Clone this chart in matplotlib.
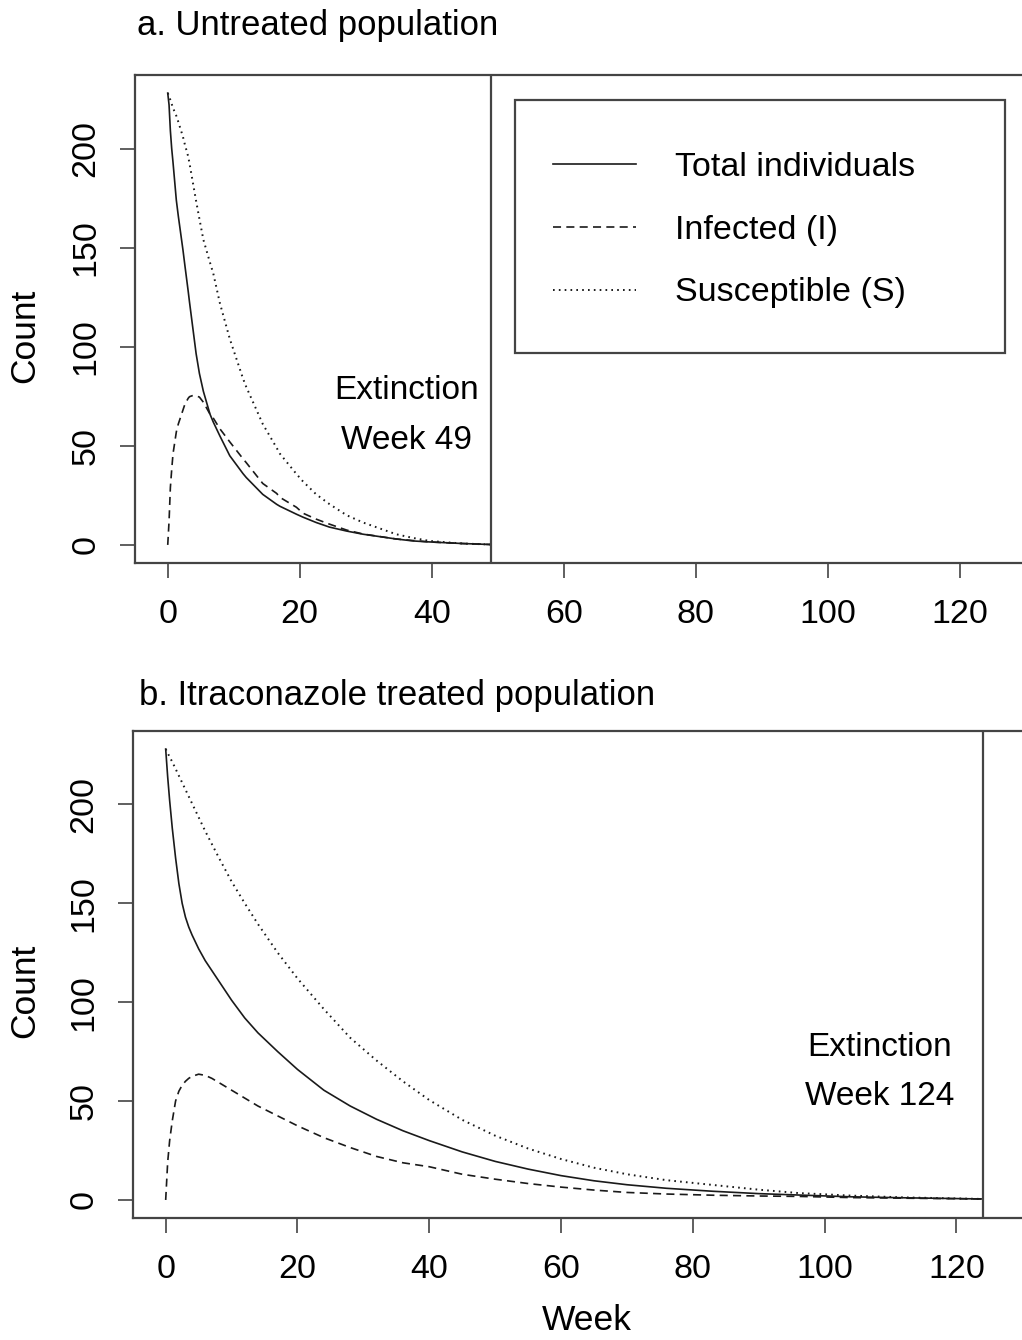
import matplotlib
matplotlib.use('Agg')
import matplotlib.pyplot as plt
from matplotlib.patches import Rectangle

plt.rcParams['font.family'] = ['Liberation Sans', 'DejaVu Sans']
plt.rcParams['lines.scale_dashes'] = False

# ---- data ----

# a. untreated population, extinction at week 49
weeks_a = [0, 0.2, 0.4, 0.6, 0.8, 1.3, 1.6, 2.3, 2.6, 3.1, 3.3, 3.8, 4.3, 4.8, 5.4, 6.4, 6.9,
           7.9, 9.4, 11.4, 11.9, 14.4, 16.5, 17, 19.5, 20.5, 22.5, 24.5, 27.1, 29.6, 34.6,
           37.2, 39.7, 44.7, 49]
total_a = [228, 222, 209, 200, 193, 174, 166, 149, 141, 128, 122.5, 109.5, 96.5, 86.5, 77.5, 66, 62,
           55, 45, 36, 34, 25.5, 20.5, 19.5, 15.5, 14, 11.3, 9, 7, 5.4, 3,
           2, 1.5, 0.7, 0.2]
infected_a = [0, 12, 29, 38, 46, 57, 61, 68, 71, 74, 74.8, 75.4, 75.2, 74.6, 72, 66, 64,
              58.6, 52, 43.5, 41.5, 31, 26, 24, 19, 16, 13, 10.5, 7.5, 5.5, 3,
              2.2, 1.5, 0.7, 0.2]
suscept_a = [228, 226.5, 224.5, 222.5, 220.5, 216.5, 213.5, 206, 202, 196, 192.5, 183, 173.5, 164.5, 154, 142.5, 137,
             122, 104, 84, 79.7, 61, 49, 46, 35.8, 32, 25.5, 20.6, 15, 11.3, 5.4,
             3.5, 2, 0.7, 0.2]

# b. itraconazole treated population, extinction at week 124
weeks_b = [0, 0.3, 0.6, 1, 1.5, 2, 2.5, 3, 3.5, 4, 5, 6, 7, 8, 10, 12, 14, 17, 20, 24, 28, 32,
           36, 40, 45, 50, 55, 60, 65, 70, 76, 83, 90, 96, 104, 112, 118, 124]
total_b = [228, 214, 202, 188, 173, 160, 150, 143, 138, 134, 127, 121, 116, 111, 101, 92, 84.5,
           75, 66, 55.5, 47.5, 40.8, 35, 30, 24.3, 19.5, 15.6, 12.3, 9.7, 7.7, 5.9, 4.4, 3.2,
           2.5, 1.6, 1.1, 0.8, 0.5]
infected_b = [0, 19, 30, 40, 50, 55, 58, 60, 61.5, 62.5, 63.6, 63, 61.5, 59.5, 55.5, 51.5,
              47.5, 42.5, 37.5, 31.5, 26.5, 22, 18.8, 16.8, 13, 10.5, 8.3, 6.5, 5, 3.8, 3,
              2.4, 2, 1.8, 1.2, 0.9, 0.7, 0.5]
suscept_b = [228, 226, 224, 221.5, 218, 214.5, 211, 207.5, 204, 200.5, 193.5, 186.5, 180,
             173.5, 161, 150, 139.5, 125, 112, 96.5, 82, 70.5, 60, 50.5, 40.5, 32.5, 26, 20.7,
             16.3, 13, 10, 7.6, 5.2, 3.5, 2.2, 1.3, 0.9, 0.5]

extinct_a = 49
extinct_b = 124

labels = ['Total individuals', 'Infected (I)', 'Susceptible (S)']
xticks = [0, 20, 40, 60, 80, 100, 120]
yticks = [0, 50, 100, 150, 200]

# ---- figure ----

W, H = 1022, 1340
FS = 24.5
fig = plt.figure(figsize=(W / 100, H / 100), dpi=100)

def px_axes(left, top, right, bottom):
    return fig.add_axes([left / W, 1 - bottom / H, (right - left) / W, (bottom - top) / H])

spine_col = '#444444'
line_col = '#1a1a1a'
dash = (0, (5.8, 3.8))
dot = (0, (1.2, 3.0))

def draw_panel(ax, weeks, tot, inf, sus, ext):
    ax.plot(weeks, tot, color=line_col, lw=1.2, linestyle='-', label=labels[0])
    ax.plot(weeks, inf, color=line_col, lw=1.2, linestyle=dash, label=labels[1])
    ax.plot(weeks, sus, color=line_col, lw=1.4, linestyle=dot, label=labels[2])
    ax.axvline(ext, color=spine_col, lw=1.6)
    ax.set_xlim(-4.96, 131.0)
    ax.set_ylim(-9.12, 237.12)
    ax.set_xticks(xticks)
    ax.set_yticks(yticks)
    ax.set_xticklabels([str(t) for t in xticks])
    ax.set_yticklabels([str(t) for t in yticks], rotation=90, va='center')
    ax.tick_params(direction='out', length=11, width=1.2, color=spine_col,
                   labelsize=FS, pad=15)
    ax.tick_params(axis='y', pad=13)
    for sp in ax.spines.values():
        sp.set_color(spine_col)
        sp.set_linewidth(1.6)

# panel a: 0 at x=168 px, 6.6 px/week
ax_a = px_axes(135, 75, 135 + 135.96 * 6.6, 563)
draw_panel(ax_a, weeks_a, total_a, infected_a, suscept_a, extinct_a)
ax_a.text(36.2, 78, 'Extinction', fontsize=24, ha='center', va='center')
ax_a.text(36.2, 52.5, 'Week %d' % extinct_a, fontsize=24, ha='center', va='center')

# panel b: 0 at x=166 px, 6.59 px/week
ax_b = px_axes(133, 731, 133 + 135.96 * 6.59, 1218)
draw_panel(ax_b, weeks_b, total_b, infected_b, suscept_b, extinct_b)
ax_b.text(108.4, 77, 'Extinction', fontsize=24, ha='center', va='center')
ax_b.text(108.4, 52.5, 'Week %d' % extinct_b, fontsize=24, ha='center', va='center')

# legend box
fig.patches.append(Rectangle((515 / W, 1 - 353 / H), 490 / W, 253 / H,
                             transform=fig.transFigure, fill=False,
                             edgecolor=spine_col, lw=1.6))
ax_a.legend(loc='center left', bbox_to_anchor=(553 / W, 1 - 230 / H),
            bbox_transform=fig.transFigure, frameon=False, fontsize=FS,
            handlelength=2.44, handletextpad=1.15, labelspacing=0.94,
            borderpad=0, borderaxespad=0)

# titles and axis labels
fig.text(137 / W, 1 - 26 / H, 'a. Untreated population', fontsize=25, ha='left', va='center')
fig.text(139 / W, 1 - 695 / H, 'b. Itraconazole treated population', fontsize=25,
         ha='left', va='center')
fig.text(25 / W, 1 - 336 / H, 'Count', fontsize=25.5, rotation=90, ha='center', va='center')
fig.text(25 / W, 1 - 991 / H, 'Count', fontsize=25.5, rotation=90, ha='center', va='center')
fig.text(587 / W, 1 - 1320 / H, 'Week', fontsize=25.5, ha='center', va='center')

fig.savefig('out.png', dpi=100)
